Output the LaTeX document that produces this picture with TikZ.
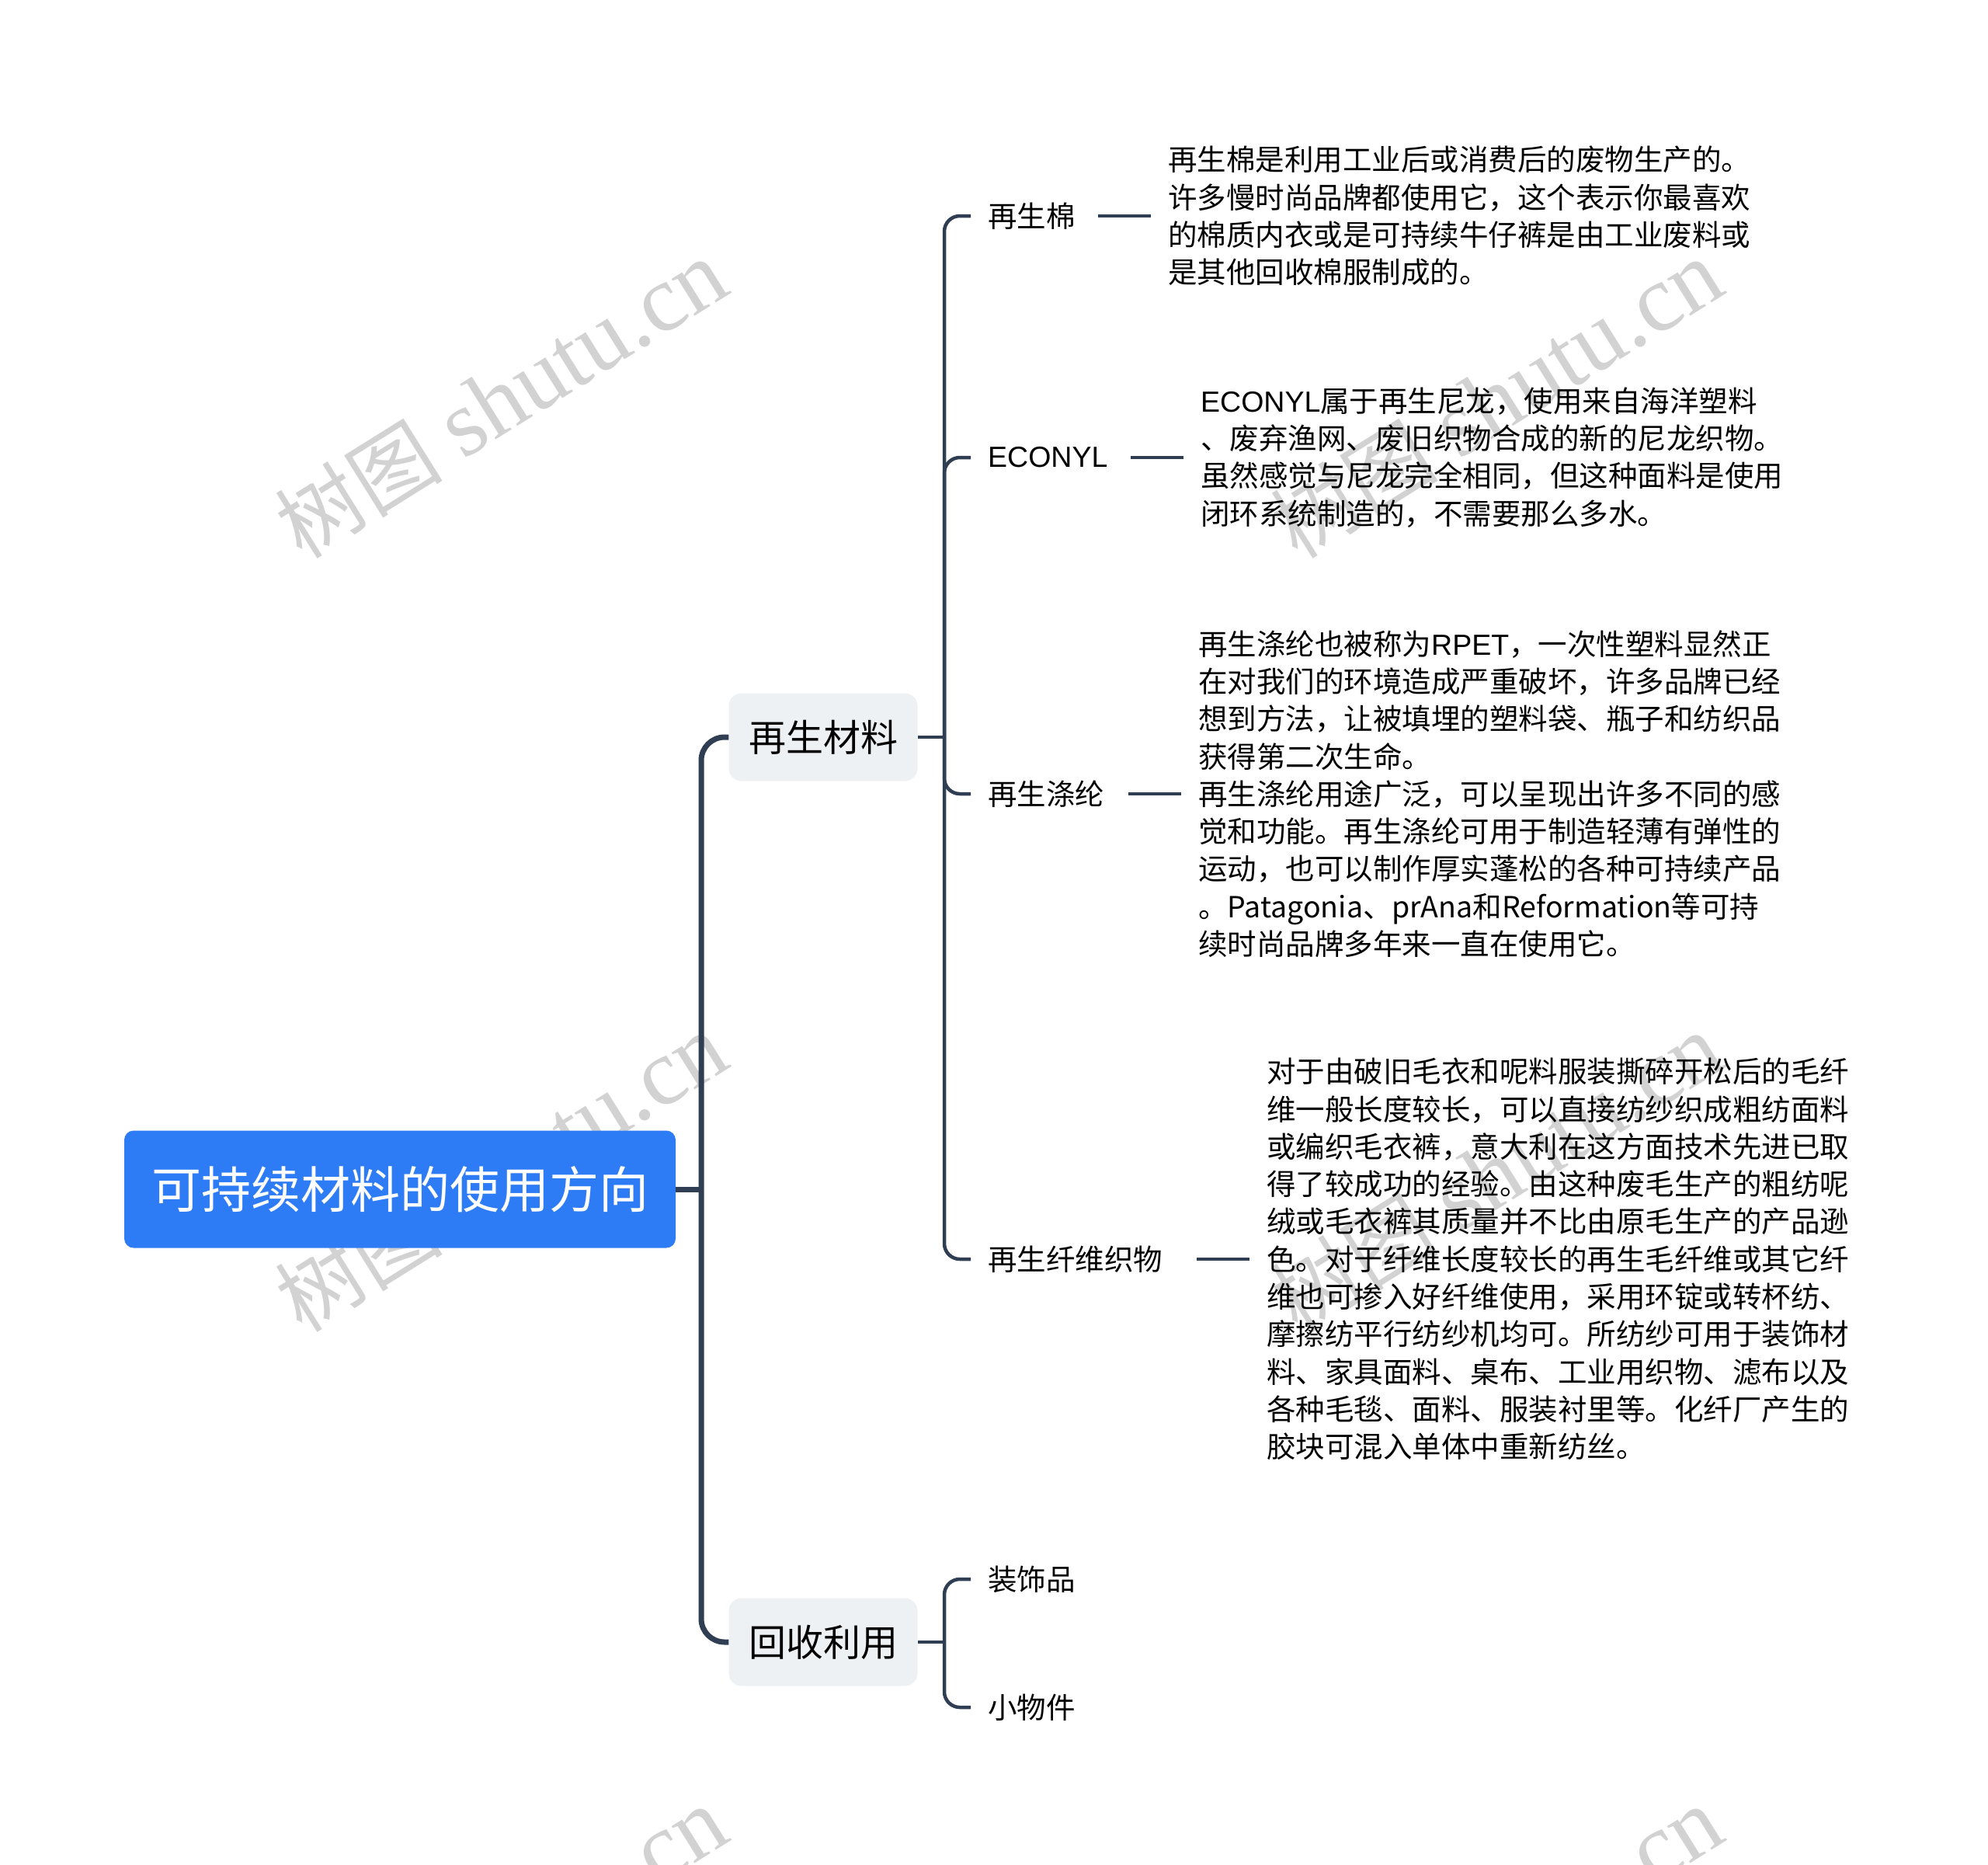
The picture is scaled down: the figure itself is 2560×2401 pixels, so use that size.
\documentclass[tikz,border=0pt]{standalone}
\usepackage{fontspec}
\setmainfont{Noto Sans CJK SC}
\newfontfamily\wmlatin{Liberation Serif}
\newfontfamily\lat{Liberation Sans}
\definecolor{rootblue}{RGB}{46,123,246}
\definecolor{boxgray}{RGB}{238,241,244}
\definecolor{linecol}{RGB}{47,62,82}
\definecolor{wmgray}{RGB}{210,210,210}
\begin{document}
\begin{tikzpicture}[x=1pt,y=-1pt,
  wm/.style={text=wmgray,font=\fontsize{122}{122}\selectfont,rotate=32,inner sep=0},
  rootnode/.style={fill=rootblue,rounded corners=12pt,text=white,minimum width=710pt,minimum height=151pt,font=\fontsize{64}{64}\selectfont,inner sep=0},
  midnode/.style={fill=boxgray,rounded corners=16pt,text=black,minimum width=243pt,minimum height=113pt,font=\fontsize{48}{48}\selectfont,inner sep=0},
  leaf/.style={anchor=west,inner xsep=22pt,inner ysep=0pt,font=\fontsize{37.5}{37.5}\selectfont},
  desc/.style={anchor=west,align=left,inner sep=0pt,font=\fontsize{37.5}{48.3}\selectfont},
  trunk/.style={draw=linecol,line width=7pt,rounded corners=30pt},
  branch/.style={draw=linecol,line width=4.5pt,rounded corners=20pt},
  dline/.style={draw=linecol,line width=4.5pt}
]
\useasboundingbox (0,0) rectangle (2560,2401);
\begin{scope}
\clip (0,0) rectangle (2560,2401);
\node[wm] (wm1) at (645,514) {{\fontsize{108}{108}\selectfont 树图} {\wmlatin shutu.cn}};
\node[wm] (wm2) at (1927,514) {{\fontsize{108}{108}\selectfont 树图} {\wmlatin shutu.cn}};
\node[wm] (wm3) at (645,1510) {{\fontsize{108}{108}\selectfont 树图} {\wmlatin shutu.cn}};
\node[wm] (wm4) at (1927,1510) {{\fontsize{108}{108}\selectfont 树图} {\wmlatin shutu.cn}};
\node[wm] (wm5) at (645,2506) {{\fontsize{108}{108}\selectfont 树图} {\wmlatin shutu.cn}};
\node[wm] (wm6) at (1927,2506) {{\fontsize{108}{108}\selectfont 树图} {\wmlatin shutu.cn}};
\end{scope}

% main nodes
\node[rootnode] (root) at (515,1531) {可持续材料的使用方向};
\node[midnode] (mat) at (1060,949) {再生材料};
\node[midnode] (rec) at (1060,2114) {回收利用};

% leaves
\node[leaf] (c1) at (1250,278) {再生棉};
\node[leaf] (c2) at (1250,589) {{\lat ECONYL}};
\node[leaf] (c3) at (1250,1022) {再生涤纶};
\node[leaf] (c4) at (1250,1621) {再生纤维织物};
\node[leaf] (r1) at (1250,2033) {装饰品};
\node[leaf] (r2) at (1250,2198) {小物件};

% descriptions
\node[desc] (d1) at (1504,278) {再生棉是利用工业后或消费后的废物生产的。\\
许多慢时尚品牌都使用它，这个表示你最喜欢\\
的棉质内衣或是可持续牛仔裤是由工业废料或\\
是其他回收棉服制成的。};
\node[desc] (d2) at (1546,589) {{\lat ECONYL}属于再生尼龙，使用来自海洋塑料\\
、废弃渔网、废旧织物合成的新的尼龙织物。\\
虽然感觉与尼龙完全相同，但这种面料是使用\\
闭环系统制造的，不需要那么多水。};
\node[desc] (d3) at (1543,1022) {再生涤纶也被称为{\lat RPET}，一次性塑料显然正\\
在对我们的环境造成严重破坏，许多品牌已经\\
想到方法，让被填埋的塑料袋、瓶子和纺织品\\
获得第二次生命。\\
再生涤纶用途广泛，可以呈现出许多不同的感\\
觉和功能。再生涤纶可用于制造轻薄有弹性的\\
运动，也可以制作厚实蓬松的各种可持续产品\\
。Patagonia、prAna和Reformation等可持\\
续时尚品牌多年来一直在使用它。};
\node[desc] (d4) at (1631,1621) {对于由破旧毛衣和呢料服装撕碎开松后的毛纤\\
维一般长度较长，可以直接纺纱织成粗纺面料\\
或编织毛衣裤，意大利在这方面技术先进已取\\
得了较成功的经验。由这种废毛生产的粗纺呢\\
绒或毛衣裤其质量并不比由原毛生产的产品逊\\
色。对于纤维长度较长的再生毛纤维或其它纤\\
维也可掺入好纤维使用，采用环锭或转杯纺、\\
摩擦纺平行纺纱机均可。所纺纱可用于装饰材\\
料、家具面料、桌布、工业用织物、滤布以及\\
各种毛毯、面料、服装衬里等。化纤厂产生的\\
胶块可混入单体中重新纺丝。};

% trunk coordinates
\coordinate (tx) at (903,0);
\coordinate (sx) at (1216,0);

% main trunk
\draw[trunk] (root.east) -- (tx |- root.east);
\draw[trunk] (mat.west) -- (tx |- mat.west) -- (tx |- rec.west) -- (rec.west);

% sub branches of 再生材料
\draw[branch] (mat.east) -- (sx |- mat.east);
\draw[branch] (sx |- mat.east) -- (sx |- c1.west) -- (c1.west);
\draw[branch] (sx |- mat.east) -- (sx |- c2.west) -- (c2.west);
\draw[branch] (sx |- mat.east) -- (sx |- c3.west) -- (c3.west);
\draw[branch] (sx |- mat.east) -- (sx |- c4.west) -- (c4.west);

% sub branches of 回收利用
\draw[branch] (rec.east) -- (sx |- rec.east);
\draw[branch] (sx |- rec.east) -- (sx |- r1.west) -- (r1.west);
\draw[branch] (sx |- rec.east) -- (sx |- r2.west) -- (r2.west);

% leaf to description
\draw[dline] ([xshift=-90pt]d1.west) -- ([xshift=-22pt]d1.west);
\draw[dline] ([xshift=-90pt]d2.west) -- ([xshift=-22pt]d2.west);
\draw[dline] ([xshift=-90pt]d3.west) -- ([xshift=-22pt]d3.west);
\draw[dline] ([xshift=-90pt]d4.west) -- ([xshift=-22pt]d4.west);
\end{tikzpicture}
\end{document}
